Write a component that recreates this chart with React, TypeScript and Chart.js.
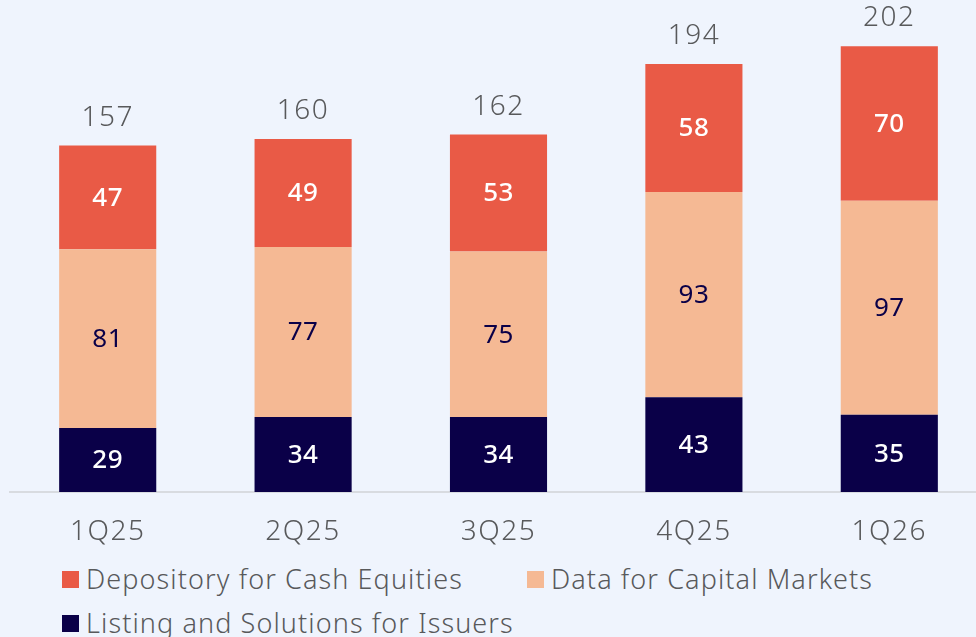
import React, { useEffect, useRef } from "react";
import { Chart, registerables } from "chart.js";

Chart.register(...registerables);

const categories = ["1Q25", "2Q25", "3Q25", "4Q25", "1Q26"];
const listingIssuers = [29, 34, 34, 43, 35];
const dataCapitalMarkets = [81, 77, 75, 93, 97];
const depositoryCashEquities = [47, 49, 53, 58, 70];
const totals = [157, 160, 162, 194, 202];

const seriesNames = [
  "Depository for Cash Equities",
  "Data for Capital Markets",
  "Listing and Solutions for Issuers",
];

const RED = "#E95A46";
const PEACH = "#F5B994";
const NAVY = "#0A0048";
const GREY = "#58595B";
const BG = "#EFF4FD";
const FONT = "'Noto Sans', 'Open Sans', sans-serif";

const spacingPlugin = {
  id: "spacing",
  beforeDraw(chart: any) {
    (chart.ctx as any).letterSpacing = "1.5px";
  },
};

const labelPlugin = {
  id: "segLabels",
  afterDatasetsDraw(chart: any) {
    const ctx = chart.ctx;
    ctx.save();
    ctx.textAlign = "center";
    ctx.textBaseline = "middle";
    chart.data.datasets.forEach((ds: any, di: number) => {
      const meta = chart.getDatasetMeta(di);
      meta.data.forEach((bar: any, i: number) => {
        const v = ds.data[i];
        const yMid = (bar.y + bar.base) / 2;
        ctx.letterSpacing = "0.5px";
        ctx.font = `${ds.labelWeight} 26px ${FONT}`;
        ctx.fillStyle = ds.labelColor;
        ctx.fillText(String(v), bar.x, yMid + 1);
      });
    });
    const topMeta = chart.getDatasetMeta(chart.data.datasets.length - 1);
    topMeta.data.forEach((bar: any, i: number) => {
      ctx.letterSpacing = "1.5px";
      ctx.font = `300 28px ${FONT}`;
      ctx.fillStyle = GREY;
      ctx.fillText(String(totals[i]), bar.x, bar.y - 28);
    });
    ctx.restore();
  },
};

export default function App() {
  const ref = useRef<HTMLCanvasElement | null>(null);
  useEffect(() => {
    if (!ref.current) return;
    const chart = new Chart(ref.current, {
      type: "bar",
      data: {
        labels: categories,
        datasets: [
          { label: seriesNames[2], data: listingIssuers, backgroundColor: NAVY, labelColor: "#FFFFFF", labelWeight: 500 } as any,
          { label: seriesNames[1], data: dataCapitalMarkets, backgroundColor: PEACH, labelColor: NAVY, labelWeight: 400 } as any,
          { label: seriesNames[0], data: depositoryCashEquities, backgroundColor: RED, labelColor: "#FFFFFF", labelWeight: 500 } as any,
        ],
      },
      options: {
        animation: false,
        responsive: false,
        devicePixelRatio: 1,
        layout: { padding: { left: 10, right: 13, top: 0, bottom: 0 } },
        datasets: { bar: { barPercentage: 0.497, categoryPercentage: 1 } },
        plugins: { legend: { display: false }, tooltip: { enabled: false } },
        scales: {
          x: {
            stacked: true,
            grid: { display: false, drawTicks: false },
            border: { display: true, color: "#D8DBE0", width: 2 },
            ticks: { color: GREY, font: { family: FONT, size: 28, weight: "300" as any }, padding: 23 },
            afterFit: (scale: any) => {
              scale.height = 68;
            },
          },
          y: { stacked: true, display: false, min: 0, max: 223 },
        },
      },
      plugins: [spacingPlugin, labelPlugin],
    });
    return () => chart.destroy();
  }, []);

  const legendItem = (name: string, color: string, left: number, top: number) => (
    <div
      key={name}
      style={{
        position: "absolute",
        left,
        top,
        display: "flex",
        alignItems: "center",
        whiteSpace: "nowrap",
        fontFamily: FONT,
        fontSize: 27,
        fontWeight: 300,
        letterSpacing: "1.1px",
        color: GREY,
        lineHeight: "34px",
      }}
    >
      <span style={{ display: "inline-block", width: 17, height: 17, background: color, marginRight: 7 }} />
      <span>{name}</span>
    </div>
  );

  return (
    <div style={{ position: "fixed", left: 0, top: 0, width: 976, height: 637, background: BG, overflow: "hidden" }}>
      <canvas ref={ref} width={1000} height={560} style={{ position: "absolute", left: 0, top: 0, width: 1000, height: 560 }} />
      {legendItem(seriesNames[0], RED, 62, 562)}
      {legendItem(seriesNames[1], PEACH, 527, 562)}
      {legendItem(seriesNames[2], NAVY, 62, 606)}
    </div>
  );
}
